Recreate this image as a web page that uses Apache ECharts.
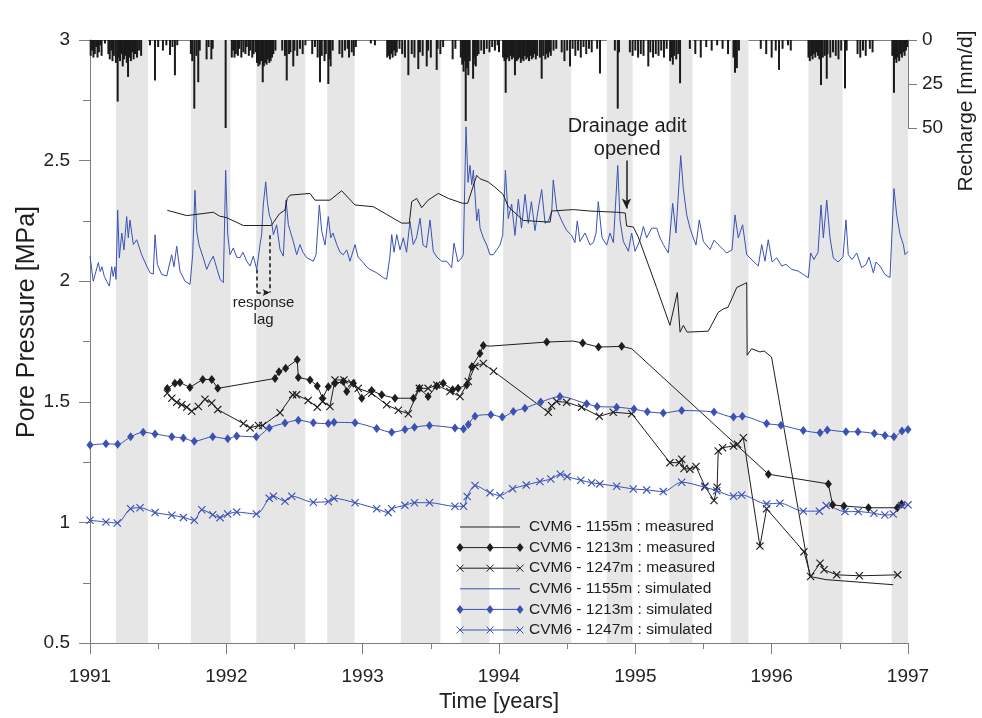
<!DOCTYPE html>
<html><head><meta charset="utf-8">
<script src="https://cdn.jsdelivr.net/npm/echarts/dist/echarts.min.js"></script>
<style>html,body{margin:0;padding:0;background:#fff}#c{width:982px;height:718px}</style>
</head><body><div id="c"></div>
<script>
// ---------------- DATA ----------------
const yearTicks = ['1991','1992','1993','1994','1995','1996','1997'];
const bandStarts = [1991.19, 1991.74, 1992.22, 1992.74, 1993.28, 1993.72, 1994.03, 1994.79, 1995.25, 1995.70, 1996.27, 1996.88];
const bandEnds   = [1991.425, 1992.03, 1992.58, 1992.94, 1993.57, 1993.93, 1994.53, 1994.98, 1995.42, 1995.83, 1996.52, 1997.0];

// Recharge [time(yr), mm/d]
const recharge = [
[1991.005,9],[1991.015,6],[1991.025,10],[1991.035,8],[1991.045,4],[1991.055,10],[1991.065,7],[1991.075,3],[1991.085,9],[1991.11,2],
[1991.135,8],[1991.145,11],[1991.155,6],[1991.165,12],[1991.175,9],[1991.19,13],[1991.203,35],[1991.21,10],[1991.22,12],[1991.23,8],[1991.24,15],[1991.25,11],[1991.26,9],[1991.27,13],[1991.279,21],[1991.29,10],[1991.30,12],[1991.31,7],[1991.32,11],[1991.33,8],[1991.345,10],[1991.36,6],[1991.375,9],
[1991.44,3],[1991.477,23],[1991.50,4],[1991.535,6],[1991.56,3],[1991.587,8.5],[1991.605,4],[1991.623,20],[1991.64,3],
[1991.74,8],[1991.75,12],[1991.765,39],[1991.78,9],[1991.794,24],[1991.805,6],
[1991.855,11],[1991.87,4],[1991.89,11],[1991.90,5],
[1991.995,50],
[1992.04,10],[1992.05,6],[1992.06,10],[1992.07,8],[1992.085,9],[1992.095,5],[1992.11,10],[1992.125,7],[1992.14,8],[1992.15,4],
[1992.165,9],[1992.175,6],[1992.19,10],[1992.20,8],[1992.215,7],
[1992.225,13],[1992.235,15],[1992.245,14],[1992.255,12],[1992.267,24],[1992.275,15],[1992.285,13],[1992.295,14],[1992.305,11],[1992.315,13],[1992.325,12],[1992.335,10],[1992.345,8],[1992.36,6],
[1992.41,6],[1992.43,9],[1992.443,23],[1992.46,8],[1992.47,7],[1992.491,15],[1992.50,6],[1992.52,9],[1992.54,5],[1992.56,8],[1992.58,3],
[1992.63,8],[1992.65,4],[1992.67,10],[1992.687,24],[1992.70,9],[1992.72,12],[1992.73,8],[1992.748,25],[1992.757,11],[1992.765,15],[1992.78,6],
[1992.83,8],[1992.85,10],[1992.87,6],[1992.89,5],[1992.90,10],[1992.92,7],[1992.935,9],[1992.95,4],
[1993.06,2],[1993.09,3],
[1993.18,10],[1993.19,9],[1993.20,11],[1993.21,8],[1993.22,10],[1993.23,6],[1993.24,9],[1993.25,7],[1993.27,5],
[1993.29,8],[1993.31,10],[1993.335,20],[1993.36,8],[1993.38,10],[1993.408,16.5],[1993.42,7],[1993.44,9],[1993.47,15],[1993.48,6],[1993.50,10],[1993.543,17],[1993.55,5],[1993.57,8],[1993.59,4],[1993.66,11],[1993.68,5],
[1993.72,10],[1993.73,14],[1993.74,18],[1993.75,12],[1993.756,46],[1993.765,16],[1993.775,20],[1993.785,12],[1993.81,22],[1993.815,14],[1993.82,10],[1993.83,15],[1993.84,9],[1993.85,8],
[1993.87,6],[1993.89,8],[1993.91,5],[1993.93,7],[1993.95,4],[1993.97,6],[1993.99,3],[1994.0,7],
[1994.03,10],[1994.04,12],[1994.049,30],[1994.055,11],[1994.065,10],[1994.075,12],[1994.085,9],[1994.095,11],[1994.105,10],[1994.117,20],[1994.13,12],[1994.14,11],[1994.15,10],[1994.16,13],[1994.17,11],[1994.18,12],[1994.19,9],[1994.20,11],[1994.21,10],[1994.22,12],[1994.23,9],[1994.24,11],[1994.25,10],[1994.26,8],[1994.27,11],[1994.28,9],[1994.30,10],[1994.313,22],[1994.325,9],[1994.34,11],[1994.35,8],[1994.36,10],[1994.37,7],[1994.38,9],[1994.40,6],[1994.42,5],
[1994.46,7],[1994.48,12],[1994.50,6],[1994.521,15],[1994.54,5],[1994.56,9],[1994.58,6],[1994.60,10],[1994.62,4],[1994.64,8],[1994.66,5],[1994.68,7],[1994.72,5],[1994.741,19],
[1994.85,6],[1994.871,39],[1994.88,7],
[1994.96,7],[1994.98,9],[1995.0,6],[1995.02,10],[1995.04,8],[1995.06,9],[1995.095,15],[1995.11,7],[1995.13,10],[1995.15,8],[1995.17,9],[1995.19,6],[1995.21,10],[1995.23,5],
[1995.255,12],[1995.265,10],[1995.275,14],[1995.285,9],[1995.30,11],[1995.315,8],[1995.328,24.6],
[1995.40,5],[1995.44,8],[1995.48,10],[1995.52,4],[1995.56,6],[1995.60,3],[1995.64,5],[1995.68,8],[1995.72,10],[1995.731,18.6],[1995.745,16],[1995.76,6],
[1995.92,5],[1995.96,8],[1996.0,10],[1996.03,6],[1996.054,17],[1996.08,5],[1996.12,3],[1996.14,6],
[1996.27,10],[1996.28,12],[1996.29,9],[1996.30,11],[1996.31,8],[1996.32,10],[1996.33,7],[1996.34,9],[1996.35,11],[1996.362,25.6],[1996.375,10],[1996.39,9],[1996.404,22],[1996.41,8],[1996.43,10],[1996.45,7],[1996.47,9],[1996.49,11],[1996.51,6],[1996.538,27.5],[1996.55,6],
[1996.63,8],[1996.65,10],[1996.67,6],[1996.69,9],[1996.72,5],[1996.74,7],
[1996.885,9],[1996.897,30],[1996.905,11],[1996.915,13],[1996.925,10],[1996.935,12],[1996.945,8],[1996.955,10],[1996.965,7],[1996.975,9],[1996.985,6],[1996.995,4]
];

// CVM6 - 1155m : simulated [time, MPa]
const sim1155 = [
[1991.000,2.104],[1991.024,2.000],[1991.061,2.077],[1991.075,2.040],[1991.088,2.060],[1991.105,2.020],[1991.122,2.000],[1991.142,1.980],[1991.159,2.060],[1991.170,2.020],
[1991.183,2.060],[1991.191,2.008],[1991.203,2.295],[1991.215,2.097],[1991.233,2.200],[1991.249,2.130],[1991.269,2.268],[1991.281,2.180],[1991.293,2.254],[1991.318,2.152],
[1991.343,2.172],[1991.379,2.110],[1991.416,2.063],[1991.440,2.035],[1991.464,2.030],[1991.477,2.193],[1991.494,2.070],[1991.526,2.028],[1991.563,2.022],[1991.599,2.110],
[1991.616,2.060],[1991.636,2.145],[1991.660,2.042],[1991.697,2.000],[1991.734,1.987],[1991.753,2.110],[1991.770,2.377],[1991.783,2.206],[1991.800,2.150],[1991.831,2.097],
[1991.856,2.049],[1991.880,2.080],[1991.904,2.104],[1991.932,2.050],[1991.954,2.008],[1991.978,1.994],[1991.995,2.460],[1992.010,2.193],[1992.027,2.110],[1992.051,2.138],
[1992.076,2.100],[1992.100,2.097],[1992.122,2.120],[1992.149,2.083],[1992.174,2.063],[1992.198,2.104],[1992.223,2.049],[1992.247,2.152],[1992.259,2.193],[1992.271,2.316],
[1992.289,2.412],[1992.301,2.330],[1992.315,2.275],[1992.331,2.250],[1992.345,2.193],[1992.369,2.234],[1992.394,2.131],[1992.418,2.104],[1992.438,2.336],[1992.455,2.234],
[1992.491,2.165],[1992.516,2.110],[1992.540,2.152],[1992.562,2.120],[1992.590,2.097],[1992.614,2.090],[1992.638,2.083],[1992.658,2.110],[1992.682,2.316],[1992.700,2.206],
[1992.724,2.150],[1992.748,2.268],[1992.766,2.180],[1992.782,2.200],[1992.810,2.152],[1992.834,2.120],[1992.858,2.110],[1992.883,2.130],[1992.907,2.083],[1992.944,2.152],
[1992.966,2.100],[1993.005,2.077],[1993.028,2.060],[1993.054,2.049],[1993.103,2.035],[1993.151,2.015],[1993.176,2.008],[1993.200,2.104],[1993.213,2.193],[1993.230,2.120],
[1993.250,2.193],[1993.274,2.130],[1993.298,2.180],[1993.322,2.120],[1993.347,2.248],[1993.371,2.152],[1993.395,2.180],[1993.421,2.261],[1993.443,2.150],[1993.468,2.140],
[1993.494,2.254],[1993.518,2.124],[1993.545,2.100],[1993.580,2.083],[1993.616,2.083],[1993.653,2.056],[1993.670,2.158],[1993.699,2.080],[1993.726,2.097],[1993.738,2.110],
[1993.758,2.640],[1993.773,2.410],[1993.787,2.480],[1993.800,2.400],[1993.812,2.460],[1993.837,2.250],[1993.850,2.300],[1993.861,2.220],[1993.885,2.180],[1993.910,2.150],
[1993.934,2.110],[1993.958,2.110],[1993.983,2.130],[1994.007,2.150],[1994.027,2.190],[1994.047,2.460],[1994.068,2.260],[1994.093,2.320],[1994.117,2.190],[1994.142,2.340],
[1994.165,2.220],[1994.191,2.360],[1994.215,2.240],[1994.238,2.330],[1994.264,2.210],[1994.288,2.300],[1994.313,2.380],[1994.338,2.240],[1994.362,2.250],[1994.387,2.290],
[1994.398,2.420],[1994.423,2.300],[1994.460,2.250],[1994.497,2.210],[1994.533,2.190],[1994.557,2.160],[1994.574,2.250],[1994.594,2.165],[1994.631,2.200],[1994.668,2.150],
[1994.692,2.160],[1994.712,2.200],[1994.728,2.330],[1994.756,2.180],[1994.790,2.150],[1994.814,2.200],[1994.839,2.160],[1994.871,2.480],[1994.888,2.250],[1994.912,2.165],
[1994.937,2.138],[1994.949,2.124],[1994.973,2.200],[1994.998,2.124],[1995.034,2.170],[1995.059,2.227],[1995.083,2.180],[1995.120,2.220],[1995.157,2.220],[1995.181,2.180],
[1995.205,2.152],[1995.242,2.117],[1995.274,2.323],[1995.298,2.200],[1995.333,2.521],[1995.352,2.384],[1995.377,2.275],[1995.401,2.220],[1995.425,2.180],[1995.445,2.150],
[1995.469,2.254],[1995.499,2.165],[1995.548,2.131],[1995.577,2.170],[1995.621,2.145],[1995.670,2.117],[1995.709,2.130],[1995.731,2.275],[1995.755,2.180],[1995.787,2.234],
[1995.817,2.110],[1995.865,2.083],[1995.902,2.063],[1995.927,2.152],[1995.951,2.083],[1995.975,2.172],[1996.003,2.080],[1996.037,2.097],[1996.074,2.063],[1996.105,2.070],
[1996.147,2.049],[1996.195,2.042],[1996.232,2.028],[1996.269,2.015],[1996.286,2.117],[1996.310,2.090],[1996.340,2.120],[1996.362,2.316],[1996.379,2.180],[1996.404,2.336],
[1996.428,2.180],[1996.452,2.097],[1996.487,2.080],[1996.523,2.100],[1996.545,2.254],[1996.562,2.110],[1996.589,2.090],[1996.624,2.117],[1996.660,2.056],[1996.692,2.070],
[1996.714,2.100],[1996.746,2.035],[1996.765,2.080],[1996.795,2.063],[1996.831,2.028],[1996.868,2.015],[1996.897,2.384],[1996.917,2.275],[1996.942,2.193],[1996.966,2.152],
[1996.978,2.110],[1997.000,2.124]
];

// CVM6 - 1155m : measured
const meas1155T = [1991.567,1991.71,1991.905,1991.95,1992.0,1992.125,1992.33,1992.39,1992.43,1992.447,1992.467,1992.614,1992.65,1992.76,1992.846,1992.944,1993.078,1993.176,1993.286,1993.342,1993.36,1993.396,1993.433,1993.48,1993.555,1993.63,1993.733,1993.77,1993.836,1993.86,1993.92,1993.97,1994.03,1994.068,1994.178,1994.375,1994.386,1994.545,1994.667,1994.863,1994.926,1994.936,1994.985,1995.02,1995.156,1995.254,1995.308,1995.328,1995.352,1995.38,1995.535,1995.608,1995.645,1995.68,1995.744,1995.817,1995.82,1995.853,1995.914,1995.944,1995.999,1996.281,1996.4,1996.892];
const meas1155V = [2.294,2.272,2.286,2.27,2.264,2.231,2.231,2.28,2.295,2.343,2.357,2.364,2.336,2.336,2.375,2.316,2.309,2.277,2.241,2.241,2.33,2.343,2.305,2.336,2.364,2.343,2.323,2.323,2.439,2.425,2.412,2.39,2.36,2.309,2.252,2.245,2.291,2.297,2.291,2.286,2.283,2.229,2.225,2.186,1.974,1.817,1.953,1.789,1.817,1.789,1.793,1.871,1.885,1.892,1.974,1.994,1.693,1.72,1.707,1.711,1.686,0.776,0.763,0.742];

// CVM6 - 1213m : measured (points listed in meas1213Plain carry no marker)
const meas1213T = [1991.567,1991.623,1991.66,1991.733,1991.827,1991.893,1991.937,1992.357,1992.386,1992.435,1992.52,1992.528,1992.614,1992.667,1992.706,1992.748,1992.797,1992.858,1992.883,1992.932,1992.993,1993.066,1993.14,1993.237,1993.372,1993.416,1993.48,1993.543,1993.591,1993.66,1993.70,1993.763,1993.8,1993.86,1993.885,1993.934,1994.35,1994.545,1994.614,1994.73,1994.9,1994.974,1995.976,1996.416,1996.447,1996.53,1996.71,1996.922,1996.953];
const meas1213V = [1.555,1.577,1.58,1.56,1.593,1.593,1.556,1.597,1.625,1.639,1.675,1.601,1.591,1.566,1.515,1.563,1.577,1.584,1.543,1.577,1.515,1.547,1.529,1.515,1.515,1.556,1.522,1.566,1.577,1.55,1.556,1.57,1.645,1.70,1.734,1.731,1.748,1.752,1.744,1.727,1.73,1.72,1.2,1.16,1.073,1.068,1.061,1.061,1.077];
const meas1213Plain = [1993.934, 1994.545, 1994.974];

// CVM6 - 1247m : measured
const meas1247T = [1991.567,1991.6,1991.636,1991.673,1991.71,1991.746,1991.795,1991.843,1991.893,1991.937,1992.125,1992.174,1992.235,1992.267,1992.394,1992.487,1992.515,1992.6,1992.667,1992.706,1992.76,1992.797,1992.863,1992.92,1992.968,1993.066,1993.176,1993.262,1993.335,1993.416,1993.48,1993.543,1993.64,1993.714,1993.775,1993.824,1993.885,1993.96,1994.362,1994.386,1994.423,1994.496,1994.606,1994.736,1994.838,1994.974,1995.254,1995.322,1995.34,1995.357,1995.4,1995.445,1995.51,1995.577,1995.60,1995.608,1995.64,1995.72,1995.75,1995.792,1995.914,1995.963,1996.237,1996.286,1996.355,1996.384,1996.477,1996.643,1996.924];
const meas1247V = [1.536,1.515,1.498,1.488,1.478,1.461,1.481,1.511,1.495,1.468,1.41,1.392,1.402,1.402,1.455,1.529,1.529,1.506,1.478,1.502,1.481,1.591,1.591,1.577,1.556,1.536,1.488,1.465,1.451,1.556,1.556,1.57,1.543,1.522,1.584,1.648,1.659,1.627,1.457,1.484,1.502,1.498,1.478,1.44,1.457,1.451,1.248,1.248,1.262,1.224,1.221,1.232,1.15,1.091,1.146,1.296,1.31,1.317,1.324,1.351,0.902,1.057,0.879,0.776,0.831,0.804,0.783,0.779,0.783];

// CVM6 - 1213m : simulated
const sim1213T = [1991.0,1991.117,1991.203,1991.298,1991.39,1991.477,1991.6,1991.685,1991.765,1991.9,1992.01,1992.076,1992.22,1992.315,1992.43,1992.528,1992.638,1992.748,1992.79,1992.944,1993.103,1993.213,1993.31,1993.38,1993.49,1993.677,1993.74,1993.775,1993.824,1993.94,1994.024,1994.105,1994.19,1994.306,1994.447,1994.643,1994.72,1994.863,1994.99,1995.088,1995.205,1995.34,1995.577,1995.72,1995.785,1995.963,1996.068,1996.232,1996.355,1996.408,1996.545,1996.633,1996.753,1996.831,1996.897,1996.956,1997.0];
const sim1213V = [1.321,1.326,1.324,1.355,1.374,1.367,1.355,1.35,1.337,1.355,1.347,1.358,1.355,1.392,1.412,1.424,1.413,1.41,1.415,1.413,1.39,1.374,1.385,1.395,1.402,1.392,1.388,1.406,1.44,1.447,1.437,1.46,1.474,1.499,1.522,1.492,1.481,1.478,1.47,1.459,1.454,1.464,1.458,1.437,1.44,1.41,1.403,1.381,1.372,1.383,1.376,1.376,1.369,1.361,1.355,1.379,1.385];

// CVM6 - 1247m : simulated
const sim1247T = [1991.0,1991.117,1991.2,1991.298,1991.367,1991.477,1991.6,1991.685,1991.765,1991.82,1991.9,1991.954,1992.01,1992.076,1992.22,1992.315,1992.345,1992.43,1992.48,1992.638,1992.748,1992.79,1992.944,1993.103,1993.188,1993.213,1993.31,1993.38,1993.49,1993.677,1993.74,1993.767,1993.824,1993.934,1994.007,1994.1,1994.2,1994.3,1994.38,1994.45,1994.5,1994.6,1994.68,1994.74,1994.863,1994.985,1995.083,1995.205,1995.34,1995.51,1995.597,1995.72,1995.78,1995.963,1996.06,1996.232,1996.35,1996.4,1996.538,1996.635,1996.75,1996.83,1996.892,1996.953,1997.0];
const sim1247V = [1.009,1.002,0.998,1.057,1.061,1.041,1.03,1.021,1.009,1.053,1.032,1.02,1.035,1.043,1.035,1.1,1.109,1.088,1.109,1.084,1.087,1.1,1.082,1.057,1.041,1.057,1.071,1.082,1.082,1.067,1.067,1.108,1.153,1.123,1.112,1.14,1.155,1.17,1.18,1.2,1.19,1.175,1.165,1.16,1.15,1.139,1.135,1.128,1.167,1.146,1.132,1.109,1.114,1.077,1.08,1.047,1.047,1.07,1.045,1.045,1.038,1.031,1.035,1.07,1.073];

const legendNames = ['CVM6 - 1155m : measured','CVM6 - 1213m : measured','CVM6 - 1247m : measured','CVM6 - 1155m : simulated','CVM6 - 1213m : simulated','CVM6 - 1247m : simulated'];

// ---------------- CHART ----------------
const FONT = '"Liberation Sans", Arial, sans-serif';
const BLUE = '#3a52b4';
const BLACK = '#1e1e1e';
const AXIS = '#7d7d7d';
const CROSS = 'path://M0,1L1,0L5,4L9,0L10,1L6,5L10,9L9,10L5,6L1,10L0,9L4,5Z';
const zip = (t, v) => t.map((x, i) => [x, v[i]]);

const chart = echarts.init(document.getElementById('c'), null, {renderer: 'canvas'});

const meas1213Data = meas1213T.map((x, i) => meas1213Plain.indexOf(x) >= 0
  ? {value: [x, meas1213V[i]], symbol: 'none'} : [x, meas1213V[i]]);

const option = {
  animation: false,
  backgroundColor: '#fff',
  textStyle: {fontFamily: FONT},
  grid: [
    {left: 90, right: 74, top: 40, bottom: 69},
    {left: 90, right: 74, top: 40, height: 88}
  ],
  xAxis: [
    {gridIndex: 0, type: 'value', min: 1991, max: 1997, interval: 1,
     axisLine: {lineStyle: {color: AXIS, width: 1}},
     axisTick: {length: 11, lineStyle: {color: AXIS}},
     minorTick: {show: true, splitNumber: 2, length: 6, lineStyle: {color: AXIS}},
     axisLabel: {fontSize: 19, color: '#222', margin: 24, fontFamily: FONT,
       formatter: v => yearTicks[Math.round(v - 1991)] || ''},
     splitLine: {show: false},
     name: 'Time [years]', nameLocation: 'middle', nameGap: 45,
     nameTextStyle: {fontSize: 22, color: '#222', fontFamily: FONT}},
    {gridIndex: 1, type: 'value', min: 1991, max: 1997, position: 'top',
     axisLine: {show: true, lineStyle: {color: AXIS, width: 1}},
     axisTick: {show: false}, axisLabel: {show: false}, splitLine: {show: false}}
  ],
  yAxis: [
    {gridIndex: 0, type: 'value', min: 0.5, max: 3, interval: 0.5,
     axisLine: {show: true, lineStyle: {color: AXIS, width: 1}},
     axisTick: {show: true, length: 11, lineStyle: {color: AXIS}},
     minorTick: {show: true, splitNumber: 2, length: 7, lineStyle: {color: AXIS}},
     axisLabel: {fontSize: 19, color: '#222', margin: 20, fontFamily: FONT},
     splitLine: {show: false}},
    {gridIndex: 1, type: 'value', min: 0, max: 50, interval: 25, inverse: true, position: 'right',
     axisLine: {show: true, lineStyle: {color: AXIS, width: 1}},
     axisTick: {show: true, length: 9, lineStyle: {color: AXIS}},
     axisLabel: {fontSize: 19, color: '#222', margin: 14, fontFamily: FONT},
     splitLine: {show: false}}
  ],
  series: [
    {name: 'bands', type: 'line', xAxisIndex: 0, yAxisIndex: 0, data: [], silent: true,
     markArea: {silent: true, itemStyle: {color: '#e6e6e6'},
       data: bandStarts.map((s, i) => [{xAxis: s}, {xAxis: bandEnds[i]}])}},
    {name: 'recharge', type: 'bar', xAxisIndex: 1, yAxisIndex: 1, data: recharge,
     barWidth: 2, itemStyle: {color: '#1a1a1a'}, z: 3, silent: true},
    {name: legendNames[3], type: 'line', xAxisIndex: 0, yAxisIndex: 0, data: sim1155,
     symbol: 'none', lineStyle: {color: BLUE, width: 1}, z: 3},
    {name: legendNames[0], type: 'line', data: zip(meas1155T, meas1155V),
     symbol: 'none', lineStyle: {color: BLACK, width: 1}, z: 4},
    {name: legendNames[1], type: 'line', data: meas1213Data,
     symbol: 'diamond', symbolSize: [7, 9], itemStyle: {color: BLACK}, lineStyle: {color: BLACK, width: 1}, z: 5},
    {name: legendNames[2], type: 'line', data: zip(meas1247T, meas1247V),
     symbol: CROSS, symbolSize: 8, itemStyle: {color: BLACK}, lineStyle: {color: BLACK, width: 1}, z: 5},
    {name: legendNames[4], type: 'line', data: zip(sim1213T, sim1213V), smooth: 0.3,
     symbol: 'diamond', symbolSize: [7, 9], itemStyle: {color: BLUE}, lineStyle: {color: BLUE, width: 1}, z: 5},
    {name: legendNames[5], type: 'line', data: zip(sim1247T, sim1247V), smooth: 0.3,
     symbol: CROSS, symbolSize: 8, itemStyle: {color: BLUE}, lineStyle: {color: BLUE, width: 1}, z: 5},
    {name: 'annotations', type: 'line', data: [], silent: true,
     markLine: {silent: true, animation: false, label: {show: false},
       data: [
         [{coord: [1994.935, 2.50], symbol: 'none', lineStyle: {type: 'solid', width: 1.5, color: BLACK}},
          {coord: [1994.935, 2.302], symbol: 'arrow', symbolSize: [7, 10]}],
         [{coord: [1992.223, 2.049], symbol: 'none', lineStyle: {type: [4, 3], width: 1.6, color: BLACK}},
          {coord: [1992.223, 1.953], symbol: 'none'}],
         [{coord: [1992.223, 1.953], symbol: 'none', lineStyle: {type: [4, 3], width: 1.6, color: BLACK}},
          {coord: [1992.318, 1.953], symbol: 'arrow', symbolSize: [5, 7]}],
         [{coord: [1992.32, 2.191], symbol: 'none', lineStyle: {type: [4, 3], width: 1.6, color: BLACK}},
          {coord: [1992.32, 1.953], symbol: 'none'}]
       ]}}
  ]
};
chart.setOption(option);

// ---------- text annotations & legend (graphic) ----------
const P = (x, y) => chart.convertToPixel({gridIndex: 0}, [x, y]);
const txt = (x, y, text, size, extra) => Object.assign({type: 'text', x: x, y: y, z: 100,
  style: {text: text, font: size + 'px ' + FONT, fill: '#1e1e1e', textAlign: 'center', textVerticalAlign: 'middle', align: 'center', verticalAlign: 'middle'}}, extra || {});
const g = [];
let p = P(1994.94, 2.643); g.push(txt(p[0], p[1], 'Drainage adit', 20));
p = P(1994.94, 2.548); g.push(txt(p[0], p[1], 'opened', 20));
p = P(1992.273, 1.912); g.push(txt(p[0], p[1], 'response', 15));
p = P(1992.273, 1.838); g.push(txt(p[0], p[1], 'lag', 15));
g.push(txt(27, 322, 'Pore Pressure [MPa]', 25, {rotation: Math.PI / 2}));
g.push(txt(966, 111, 'Recharge [mm/d]', 21, {rotation: Math.PI / 2}));

// legend
const legendSpec = [
  {c: BLACK, m: null}, {c: BLACK, m: 'd'}, {c: BLACK, m: 'x'},
  {c: BLUE, m: null}, {c: BLUE, m: 'd'}, {c: BLUE, m: 'x'}
];
legendSpec.forEach((s, i) => {
  const y = 527 + 20.6 * i;
  g.push({type: 'line', z: 100, shape: {x1: 460, y1: y, x2: 520, y2: y}, style: {stroke: s.c, lineWidth: 1}});
  [460, 490, 520].forEach(cx => {
    if (s.m === 'd') {
      g.push({type: 'polygon', z: 101, shape: {points: [[cx, y - 4.5], [cx + 3.5, y], [cx, y + 4.5], [cx - 3.5, y]]}, style: {fill: s.c}});
    } else if (s.m === 'x') {
      g.push({type: 'line', z: 101, shape: {x1: cx - 3.5, y1: y - 3.5, x2: cx + 3.5, y2: y + 3.5}, style: {stroke: s.c, lineWidth: 1}});
      g.push({type: 'line', z: 101, shape: {x1: cx - 3.5, y1: y + 3.5, x2: cx + 3.5, y2: y - 3.5}, style: {stroke: s.c, lineWidth: 1}});
    }
  });
  g.push({type: 'text', z: 100, x: 529, y: y, style: {text: legendNames[i], font: '15.5px ' + FONT, fill: '#1e1e1e', textAlign: 'left', textVerticalAlign: 'middle', align: 'left', verticalAlign: 'middle'}});
});
chart.setOption({graphic: g});
</script></body></html>
